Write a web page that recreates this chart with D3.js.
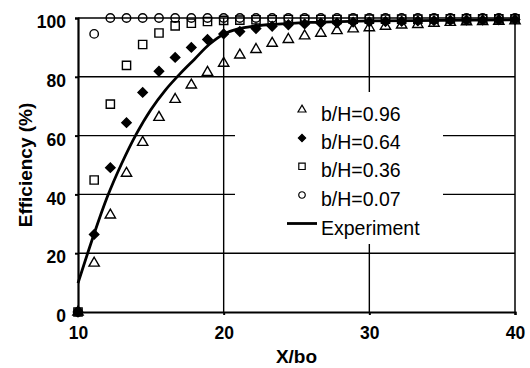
<!DOCTYPE html>
<html>
<head>
<meta charset="utf-8">
<script src="https://cdn.jsdelivr.net/npm/d3@7"></script>
<style>
  body { margin: 0; background: #fff; }
  svg { display: block; font-family: "Liberation Sans", Arial, sans-serif; }
</style>
</head>
<body>
<div id="chart"></div>
<script>
// x positions shared by all computed series (X/bo)
const xValues = [10, 11.11, 12.22, 13.33, 14.44, 15.56, 16.67, 17.78, 18.89, 20,
  21.11, 22.22, 23.33, 24.44, 25.56, 26.67, 27.78, 28.89, 30,
  31.11, 32.22, 33.33, 34.44, 35.56, 36.67, 37.78, 38.89, 40];

// efficiency (%) per b/H ratio
const eff096 = [0, 16.6, 33, 47.2, 57.7, 66.2, 72.3, 77.2, 81.5, 84.6,
  87.4, 89.3, 91.4, 92.7, 93.9, 94.8, 95.7, 96.3, 96.7,
  97.2, 97.6, 97.8, 98.2, 98.5, 98.7, 98.8, 98.9, 99.0];
const eff064 = [0, 26.4, 49.1, 64.4, 74.7, 81.9, 86.6, 90.0, 92.7, 94.6,
  95.4, 96.4, 97.2, 97.7, 98.0, 98.3, 98.4, 98.6, 98.7,
  98.8, 98.9, 99.0, 99.1, 99.2, 99.3, 99.3, 99.4, 99.5];
const eff036 = [0, 44.9, 70.7, 83.9, 91.0, 94.9, 97.3, 98.2, 98.8, 99.2,
  99.3, 99.4, 99.4, 99.5, 99.5, 99.5, 99.5, 99.6, 99.6,
  99.6, 99.6, 99.6, 99.7, 99.7, 99.7, 99.7, 99.7, 99.7];
const eff007 = [0, 94.6, 100, 100, 100, 100, 100, 100, 100, 100,
  100, 100, 100, 100, 100, 100, 100, 100, 100,
  100, 100, 100, 100, 100, 100, 100, 100, 100];

// measured curve
const expX = [10, 11, 12, 13, 14, 15, 16, 17, 18, 19, 20, 21, 22, 23, 24, 26, 28, 30, 35, 40];
const expY = [9.8, 25, 39, 50.5, 60.5, 68.8, 75.5, 81, 86, 91, 94.5, 96.3, 97.2, 97.7, 98, 98.5, 98.8, 99, 99.2, 99.4];

const xTicks = [10, 20, 30, 40];
const yTicks = [0, 20, 40, 60, 80, 100];

const width = 530, height = 368;
const margin = { top: 18, right: 15, bottom: 56, left: 78 };

const svg = d3.select("#chart").append("svg")
  .attr("width", width)
  .attr("height", height);

const x = d3.scaleLinear().domain([10, 40]).range([margin.left, width - margin.right]);
const y = d3.scaleLinear().domain([0, 100]).range([height - margin.bottom, margin.top]);

// grid lines
svg.append("g")
  .selectAll("line")
  .data(yTicks.filter(d => d > 0 && d < 100))
  .join("line")
  .attr("x1", x(10)).attr("x2", x(40))
  .attr("y1", d => y(d)).attr("y2", d => y(d))
  .attr("stroke", "#000").attr("stroke-width", 1.4);

svg.append("g")
  .selectAll("line")
  .data([20, 30])
  .join("line")
  .attr("x1", d => x(d)).attr("x2", d => x(d))
  .attr("y1", y(0)).attr("y2", y(100))
  .attr("stroke", "#000").attr("stroke-width", 1.4);

// frame top / right
svg.append("line")
  .attr("x1", x(10)).attr("x2", x(40)).attr("y1", y(100)).attr("y2", y(100))
  .attr("stroke", "#000").attr("stroke-width", 1.5);
svg.append("line")
  .attr("x1", x(40)).attr("x2", x(40)).attr("y1", y(0)).attr("y2", y(100))
  .attr("stroke", "#000").attr("stroke-width", 1.5);

// axes
const xAxis = svg.append("g")
  .attr("transform", `translate(0,${y(0)})`)
  .call(d3.axisBottom(x).tickValues(xTicks).tickSize(3).tickPadding(12).tickFormat(d3.format("d")));
const yAxis = svg.append("g")
  .attr("transform", `translate(${x(10)},0)`)
  .call(d3.axisLeft(y).tickValues(yTicks).tickSize(3).tickPadding(9).tickFormat(d3.format("d")));

[xAxis, yAxis].forEach(a => {
  a.select(".domain").attr("stroke", "#000").attr("stroke-width", 2.2);
  a.selectAll(".tick line").attr("stroke", "#000").attr("stroke-width", 2);
  a.selectAll("text")
    .attr("fill", "#000")
    .style("font-size", "17.5px")
    .style("font-weight", "bold");
});
yAxis.selectAll("text").attr("dy", "0.55em");

// axis titles
svg.append("text")
  .attr("x", (x(10) + x(40)) / 2)
  .attr("y", 363)
  .attr("text-anchor", "middle")
  .style("font-size", "19px")
  .style("font-weight", "bold")
  .text("X/bo");

svg.append("text")
  .attr("transform", `translate(32,${(y(0) + y(100)) / 2}) rotate(-90)`)
  .attr("text-anchor", "middle")
  .style("font-size", "19px")
  .style("font-weight", "bold")
  .text("Efficiency (%)");

// legend box (hides the grid behind it)
svg.append("rect")
  .attr("x", 235).attr("y", 92)
  .attr("width", 208).attr("height", 152)
  .attr("fill", "#fff");

// marker definitions
const series = [
  { name: "b/H=0.96", values: eff096, shape: d3.symbolTriangle, size: 46, rot: 0, fill: "none" },
  { name: "b/H=0.64", values: eff064, shape: d3.symbolSquare, size: 44, rot: 45, fill: "#000" },
  { name: "b/H=0.36", values: eff036, shape: d3.symbolSquare, size: 68, rot: 0, fill: "none" },
  { name: "b/H=0.07", values: eff007, shape: d3.symbolCircle, size: 56, rot: 0, fill: "none" }
];

// experiment curve
const line = d3.line()
  .x(d => x(d[0]))
  .y(d => y(d[1]))
  .curve(d3.curveCatmullRom);

svg.append("path")
  .datum(expX.map((v, i) => [v, expY[i]]))
  .attr("d", line)
  .attr("fill", "none")
  .attr("stroke", "#000")
  .attr("stroke-width", 2.8);

// points
series.forEach(s => {
  svg.append("g")
    .selectAll("path")
    .data(xValues.map((v, i) => [v, s.values[i]]))
    .join("path")
    .attr("transform", d => `translate(${x(d[0])},${y(d[1])}) rotate(${s.rot})`)
    .attr("d", d3.symbol().type(s.shape).size(s.size))
    .attr("fill", s.fill)
    .attr("stroke", "#000")
    .attr("stroke-width", 1.4);
});

// legend entries
const legendBase = [120.7, 149, 177.3, 206, 234.5];
series.forEach((s, i) => {
  svg.append("path")
    .attr("transform", `translate(302,${legendBase[i] - 11}) rotate(${s.rot})`)
    .attr("d", d3.symbol().type(s.shape).size(s.size * 0.6))
    .attr("fill", s.fill)
    .attr("stroke", "#000")
    .attr("stroke-width", 1.2);
  svg.append("text")
    .attr("x", 321).attr("y", legendBase[i])
    .style("font-size", "19.5px")
    .text(s.name);
});
svg.append("line")
  .attr("x1", 287).attr("x2", 317)
  .attr("y1", legendBase[4] - 11).attr("y2", legendBase[4] - 11)
  .attr("stroke", "#000").attr("stroke-width", 2.8);
svg.append("text")
  .attr("x", 321).attr("y", legendBase[4])
  .style("font-size", "19.5px")
  .text("Experiment");
</script>
</body>
</html>
